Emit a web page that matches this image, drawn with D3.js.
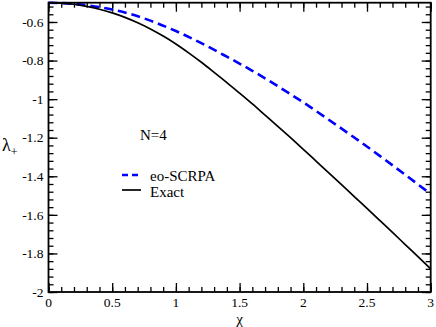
<!DOCTYPE html>
<html>
<head>
<meta charset="utf-8">
<script src="https://cdn.jsdelivr.net/npm/d3@7"></script>
<style>
  body { margin: 0; background: #fff; }
  text { font-family: "Liberation Serif", "DejaVu Serif", serif; }
</style>
</head>
<body>
<div id="chart"></div>
<script>
// values
var xExact = [0, 0.1, 0.2, 0.3, 0.4, 0.5, 0.6, 0.7, 0.8, 0.9, 1.0, 1.1, 1.2, 1.3, 1.4, 1.5,
              1.6, 1.7, 1.8, 1.9, 2.0, 2.1, 2.2, 2.3, 2.4, 2.5, 2.6, 2.7, 2.8, 2.9, 3.0];
var yExact = [-0.500, -0.502, -0.508, -0.519, -0.534, -0.553, -0.576, -0.604, -0.636, -0.673,
              -0.714, -0.760, -0.809, -0.861, -0.914, -0.969, -1.025, -1.083, -1.141, -1.200,
              -1.260, -1.321, -1.382, -1.443, -1.505, -1.567, -1.629, -1.691, -1.754, -1.817, -1.880];
var xScrpa = [0, 0.2, 0.4, 0.6, 0.8, 1.0, 1.2, 1.4, 1.6, 1.8, 2.0, 2.2, 2.4, 2.6, 2.8, 3.0];
var yScrpa = [-0.500, -0.506, -0.523, -0.551, -0.593, -0.647, -0.710, -0.780, -0.853, -0.933,
              -1.017, -1.107, -1.199, -1.294, -1.392, -1.492];

var xTicks = [0, 0.5, 1, 1.5, 2, 2.5, 3];
var yTicks = [-2, -1.8, -1.6, -1.4, -1.2, -1, -0.8, -0.6];
var seriesNames = ["eo-SCRPA", "Exact"];

var W = 436, H = 327;
var margin = {top: 2.7, right: 5.3, bottom: 35, left: 48.5};
var width = W - margin.left - margin.right;
var height = H - margin.top - margin.bottom;

var svg = d3.select("#chart").append("svg")
    .attr("width", W)
    .attr("height", H);

var g = svg.append("g")
    .attr("transform", "translate(" + margin.left + "," + margin.top + ")");

var x = d3.scaleLinear().domain([0, 3]).range([0, width]);
var y = d3.scaleLinear().domain([-2, -0.5]).range([height, 0]);

// minor ticks (x every 0.1, y every 0.04)
var xMinor = d3.range(0, 3.0001, 0.1).map(function(v) { return +v.toFixed(2); });
var yMinor = d3.range(-2, -0.4999, 0.04).map(function(v) { return +v.toFixed(2); });
var majorLen = 9, minorLen = 5;

function tickAxis(axisFn, scale, vals, len) {
  return axisFn(scale).tickValues(vals).tickSize(len).tickSizeOuter(0).tickFormat("");
}

// inward ticks on all four sides, labels drawn separately below
var sides = [
  {fn: d3.axisTop, tr: "translate(0," + height + ")", s: x, minor: xMinor, major: xTicks},
  {fn: d3.axisBottom, tr: "translate(0,0)", s: x, minor: xMinor, major: xTicks},
  {fn: d3.axisRight, tr: "translate(0,0)", s: y, minor: yMinor, major: yTicks},
  {fn: d3.axisLeft, tr: "translate(" + width + ",0)", s: y, minor: yMinor, major: yTicks}
];
function cleanTicks(a) {
  a.select(".domain").remove();
  a.selectAll("text").remove();
  a.selectAll("line").attr("stroke-width", 1.3);
}
sides.forEach(function(sd) {
  g.append("g").attr("transform", sd.tr)
    .call(tickAxis(sd.fn, sd.s, sd.minor, minorLen))
    .call(cleanTicks);
  g.append("g").attr("transform", sd.tr)
    .call(tickAxis(sd.fn, sd.s, sd.major, majorLen))
    .call(cleanTicks);
});

// tick labels
g.append("g").selectAll("text")
    .data(xTicks)
    .enter().append("text")
    .attr("x", function(d) { return x(d); })
    .attr("y", height + 15.5)
    .attr("text-anchor", "middle")
    .style("font-size", "13.5px")
    .text(function(d) { return String(d); });

g.append("g").selectAll("text")
    .data(yTicks)
    .enter().append("text")
    .attr("x", -5)
    .attr("y", function(d) { return y(d); })
    .attr("dy", "0.35em")
    .attr("text-anchor", "end")
    .style("font-size", "13.5px")
    .text(function(d) { return String(d); });

// curves
var lineExact = d3.line()
    .x(function(d, i) { return x(xExact[i]); })
    .y(function(d) { return y(d); })
    .curve(d3.curveMonotoneX);
var lineScrpa = d3.line()
    .x(function(d, i) { return x(xScrpa[i]); })
    .y(function(d) { return y(d); })
    .curve(d3.curveMonotoneX);

g.append("path")
    .datum(yScrpa)
    .attr("d", lineScrpa)
    .attr("fill", "none")
    .attr("stroke", "#0000ff")
    .attr("stroke-width", 2.6)
    .attr("stroke-dasharray", "9,5");

g.append("path")
    .datum(yExact)
    .attr("d", lineExact)
    .attr("fill", "none")
    .attr("stroke", "#000")
    .attr("stroke-width", 1.7);

// frame
g.append("rect")
    .attr("width", width)
    .attr("height", height)
    .attr("fill", "none")
    .attr("stroke", "#000")
    .attr("stroke-width", 1.8);

// axis titles
svg.append("text")
    .attr("x", margin.left + x(1.5))
    .attr("y", 323.5)
    .attr("text-anchor", "middle")
    .style("font-size", "15px")
    .text("χ");

var ylab = svg.append("text")
    .attr("x", 2)
    .attr("y", 151)
    .style("font-size", "18px");
ylab.append("tspan").text("λ");
ylab.append("tspan").attr("dy", 5).style("font-size", "12px").text("+");

// annotation + legend
svg.append("text")
    .attr("x", 140)
    .attr("y", 140)
    .style("font-size", "15px")
    .text("N=4");

var legend = svg.append("g");
legend.append("line")
    .attr("x1", 122).attr("x2", 141)
    .attr("y1", 175).attr("y2", 175)
    .attr("stroke", "#0000ff")
    .attr("stroke-width", 2.6)
    .attr("stroke-dasharray", "6,4");
legend.append("line")
    .attr("x1", 122).attr("x2", 141)
    .attr("y1", 190).attr("y2", 190)
    .attr("stroke", "#000")
    .attr("stroke-width", 1.7);
legend.selectAll("text")
    .data(seriesNames)
    .enter().append("text")
    .attr("x", 150)
    .attr("y", function(d, i) { return 181 + i * 15.5; })
    .style("font-size", "15px")
    .text(function(d) { return d; });
</script>
</body>
</html>
